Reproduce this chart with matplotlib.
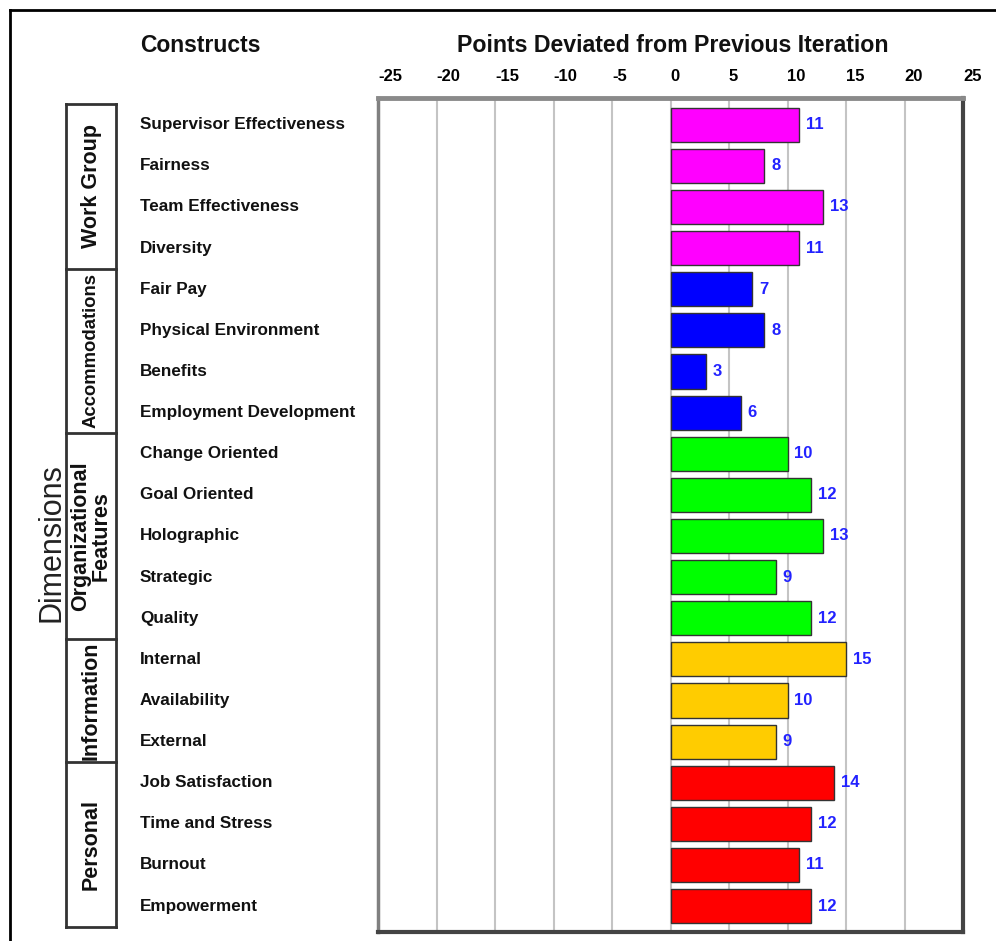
import matplotlib
matplotlib.use("Agg")
import matplotlib.pyplot as plt
from matplotlib.transforms import blended_transform_factory
from matplotlib.lines import Line2D
import numpy as np

constructs = ["Supervisor Effectiveness", "Fairness", "Team Effectiveness", "Diversity",
              "Fair Pay", "Physical Environment", "Benefits", "Employment Development",
              "Change Oriented", "Goal Oriented", "Holographic", "Strategic", "Quality",
              "Internal", "Availability", "External",
              "Job Satisfaction", "Time and Stress", "Burnout", "Empowerment"]
points = [11, 8, 13, 11, 7, 8, 3, 6, 10, 12, 13, 9, 12, 15, 10, 9, 14, 12, 11, 12]
dimensions = ["Work Group", "Accommodations", "Organizational\nFeatures", "Information", "Personal"]
dim_sizes = [4, 4, 5, 3, 4]
dim_colors = ["#FF00FF", "#0000FF", "#00FF00", "#FFCC00", "#FF0000"]
xticks = [-25, -20, -15, -10, -5, 0, 5, 10, 15, 20, 25]

plt.rcParams["font.family"] = ["Liberation Sans", "DejaVu Sans"]

W, H = 996, 941
fig = plt.figure(figsize=(W / 100, H / 100), dpi=100)
ax = fig.add_axes([378 / W, 1 - 932 / H, (963 - 378) / W, (932 - 98) / H])

colors = np.repeat(dim_colors, dim_sizes)
y = np.arange(len(points))
ax.barh(y, points, height=0.83, color=colors, edgecolor="#333333", linewidth=1, zorder=3)
for yi, v in zip(y, points):
    ax.annotate(str(v), (v, yi), xytext=(5, 0), textcoords="offset points",
                va="center", ha="left", color="#2222ff", fontweight="bold",
                fontsize=12, zorder=4)

ax.set_xlim(-25, 25)
ax.set_ylim(len(points) - 0.37, -0.65)
ax.set_xticks(xticks)
ax.set_xticklabels([str(t) for t in xticks], fontweight="bold", fontsize=12, ha="left")
ax.xaxis.tick_top()
ax.tick_params(axis="x", length=0, pad=10)
ax.set_yticks([])
ax.grid(axis="x", color="#c4c4c4", linewidth=1.5, zorder=1)
ax.spines["top"].set_color("#8a8a8a")
ax.spines["top"].set_linewidth(3.5)
ax.spines["left"].set_color("#808080")
ax.spines["left"].set_linewidth(2.5)
ax.spines["right"].set_color("#444444")
ax.spines["right"].set_linewidth(3)
ax.spines["bottom"].set_color("#444444")
ax.spines["bottom"].set_linewidth(3)

# row labels and dimension boxes on the left
tr = blended_transform_factory(fig.transFigure, ax.transData)
for yi, name in zip(y, constructs):
    fig.text(140 / W, yi, name, transform=tr, va="center", ha="left",
             fontweight="bold", fontsize=12.3, color="#111111")

x0, x1 = 66 / W, 116 / W
edges = np.concatenate([[0], np.cumsum(dim_sizes)]) - 0.5
for e in edges:
    fig.add_artist(Line2D([x0, x1], [e, e], transform=tr, color="#333333", linewidth=2))
for xx in (x0, x1):
    fig.add_artist(Line2D([xx, xx], [edges[0], edges[-1]], transform=tr, color="#333333", linewidth=2))
for name, lo, hi in zip(dimensions, edges[:-1], edges[1:]):
    fs = 13.3 if name == "Accommodations" else 15.5
    fig.text((x0 + x1) / 2, (lo + hi) / 2, name, transform=tr, rotation=90,
             va="center", ha="center", fontweight="bold", fontsize=fs,
             linespacing=0.95, color="#111111")

fig.text(51 / W, 1 - 543 / H, "Dimensions", rotation=90, va="center", ha="center",
         fontsize=22, color="#222222")
fig.text(200 / W, 1 - 46 / H, "Constructs", va="center", ha="center",
         fontweight="bold", fontsize=16.5, color="#111111")
fig.text(673 / W, 1 - 46 / H, "Points Deviated from Previous Iteration", va="center",
         ha="center", fontweight="bold", fontsize=16.7, color="#111111")

# outer frame (runs off the right and bottom edges)
fig.add_artist(Line2D([10 / W, 1.0], [1 - 10 / H, 1 - 10 / H], transform=fig.transFigure,
                      color="black", linewidth=2))
fig.add_artist(Line2D([10 / W, 10 / W], [1 - 10 / H, 0.0], transform=fig.transFigure,
                      color="black", linewidth=2))

fig.savefig("out.png", dpi=100)
